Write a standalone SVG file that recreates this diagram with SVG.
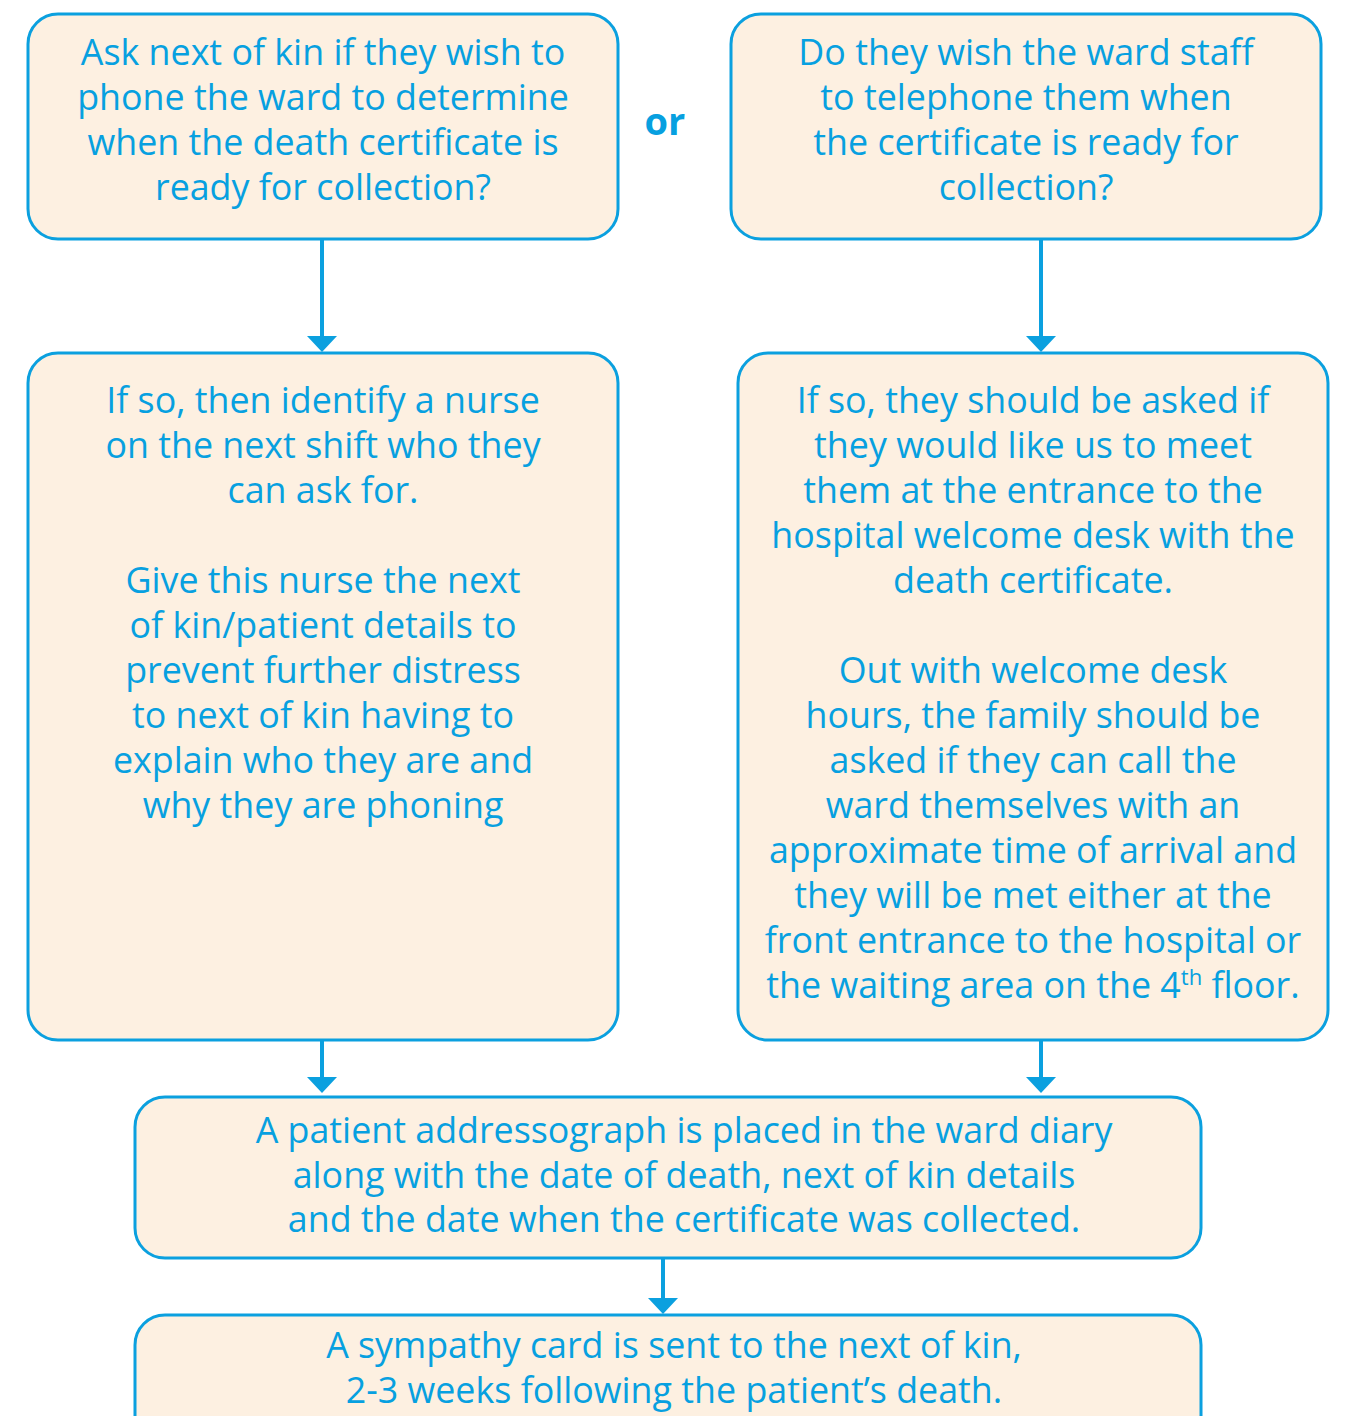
<svg xmlns="http://www.w3.org/2000/svg" width="1345" height="1416" viewBox="0 0 1345 1416">
<style>
.box{fill:#fdf0e1;stroke:#0ba0df;stroke-width:3}
.t{font-family:"Open Sans","Noto Sans",sans-serif;font-size:35.8px;fill:#07a0e0;text-anchor:middle}
.c{stroke:#0ba0df;stroke-width:4;fill:none}
.ah{fill:#0ba0df}
</style>
<g id="connectors">
<line class="c" x1="322" y1="239" x2="322" y2="336"/>
<path class="ah" d="M307 336 L337 336 L322 352 Z"/>
<line class="c" x1="1041" y1="239" x2="1041" y2="336"/>
<path class="ah" d="M1026 336 L1056 336 L1041 352 Z"/>
<line class="c" x1="322" y1="1040" x2="322" y2="1077"/>
<path class="ah" d="M307 1077 L337 1077 L322 1093 Z"/>
<line class="c" x1="1041" y1="1040" x2="1041" y2="1077"/>
<path class="ah" d="M1026 1077 L1056 1077 L1041 1093 Z"/>
<line class="c" x1="663" y1="1258" x2="663" y2="1298"/>
<path class="ah" d="M648 1298 L678 1298 L663 1314 Z"/>
</g>
<g id="n1">
<rect class="box" x="28" y="14" width="590" height="225" rx="30"/>
<text class="t" x="323" y="65">Ask next of kin if they wish to</text>
<text class="t" x="323" y="110">phone the ward to determine</text>
<text class="t" x="323" y="155">when the death certificate is</text>
<text class="t" x="323" y="200">ready for collection?</text>
</g>
<g id="or">
<text x="665" y="135" style="font-family:'Open Sans','Noto Sans',sans-serif;font-size:38px;font-weight:bold;fill:#07a0e0;text-anchor:middle">or</text>
</g>
<g id="n2">
<rect class="box" x="731" y="14" width="590" height="225" rx="30"/>
<text class="t" x="1026" y="65">Do they wish the ward staff</text>
<text class="t" x="1026" y="110">to telephone them when</text>
<text class="t" x="1026" y="155">the certificate is ready for</text>
<text class="t" x="1026" y="200">collection?</text>
</g>
<g id="n3">
<rect class="box" x="28" y="353" width="590" height="687" rx="30"/>
<text class="t" x="323" y="413">If so, then identify a nurse</text>
<text class="t" x="323" y="458">on the next shift who they</text>
<text class="t" x="323" y="503">can ask for.</text>
<text class="t" x="323" y="593">Give this nurse the next</text>
<text class="t" x="323" y="638">of kin/patient details to</text>
<text class="t" x="323" y="683">prevent further distress</text>
<text class="t" x="323" y="728">to next of kin having to</text>
<text class="t" x="323" y="773">explain who they are and</text>
<text class="t" x="323" y="818">why they are phoning</text>
</g>
<g id="n4">
<rect class="box" x="738" y="353" width="590" height="687" rx="30"/>
<text class="t" x="1033" y="413">If so, they should be asked if</text>
<text class="t" x="1033" y="458">they would like us to meet</text>
<text class="t" x="1033" y="503">them at the entrance to the</text>
<text class="t" x="1033" y="548">hospital welcome desk with the</text>
<text class="t" x="1033" y="593">death certificate.</text>
<text class="t" x="1033" y="683">Out with welcome desk</text>
<text class="t" x="1033" y="728">hours, the family should be</text>
<text class="t" x="1033" y="773">asked if they can call the</text>
<text class="t" x="1033" y="818">ward themselves with an</text>
<text class="t" x="1033" y="863">approximate time of arrival and</text>
<text class="t" x="1033" y="908">they will be met either at the</text>
<text class="t" x="1033" y="953">front entrance to the hospital or</text>
<text class="t" x="1033" y="998">the waiting area on the 4<tspan font-size="22" dy="-13">th</tspan><tspan dy="13"> floor.</tspan></text>
</g>
<g id="n5">
<rect class="box" x="135" y="1097" width="1066" height="161" rx="30"/>
<text class="t" x="684" y="1143">A patient addressograph is placed in the ward diary</text>
<text class="t" x="684" y="1188">along with the date of death, next of kin details</text>
<text class="t" x="684" y="1232">and the date when the certificate was collected.</text>
</g>
<g id="n6">
<rect class="box" x="135" y="1315" width="1066" height="140" rx="30"/>
<text class="t" x="674" y="1358">A sympathy card is sent to the next of kin,</text>
<text class="t" x="674" y="1403">2-3 weeks following the patient’s death.</text>
</g>
</svg>
